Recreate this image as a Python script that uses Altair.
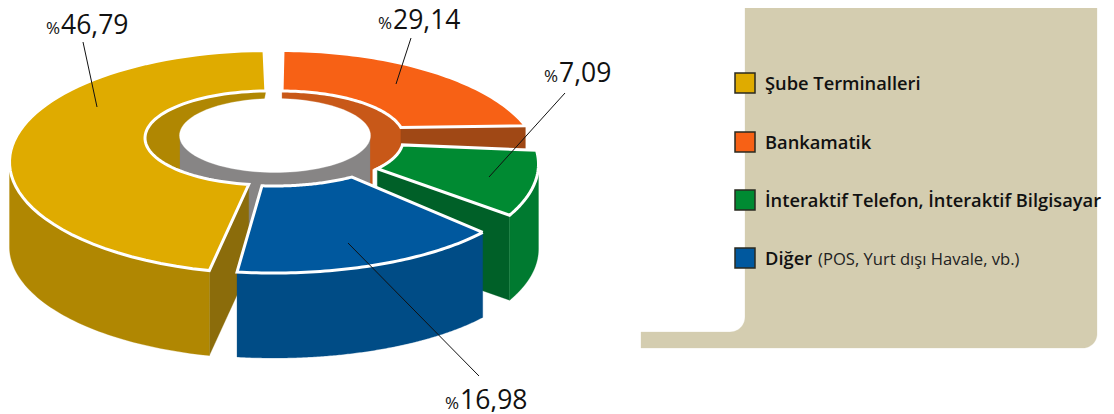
import math
import altair as alt
import pandas as pd

# ---- chart values ----
categories = ["Şube Terminalleri", "Bankamatik", "İnteraktif Telefon, İnteraktif Bilgisayar", "Diğer"]
category_notes = ["", "", "", "(POS, Yurt dışı Havale, vb.)"]
shares = [46.79, 29.14, 7.09, 16.98]

# sweep of each slice (clockwise degrees from the back of the ring)
sweep_start = [-1.0, 0.5, 96.0, 141.8]
sweep_end_inner = [-171.0, 77.0, 127.7, 185.5]
sweep_end_outer = [-170.4, 82.5, 130.6, 185.5]

# exploded slice centres
centre_x = [268, 281, 280, 274]
centre_y = [138, 138, 140, 144]

# ring proportions of each slice
in_a = [123.0, 123.0, 123.0, 126.0]
in_b = [47.0, 47.0, 47.0, 42.0]
out_a = [258.5, 258.5, 258.5, 258.5]
out_b = [111.5, 111.5, 111.5, 99.0]
out_e = [24.0, 24.0, 24.0, 30.0]
DEPTH = 85.0

top_colors = ["#dfab00", "#f76115", "#008a32", "#00589e"]
front_colors = ["#b08702", "#a04815", "#007a30", "#004c86"]
end_colors = ["#8b6c0b", "#a04815", "#006028", "#004c86"]
wall_colors = ["#b08702", "#c85818", "#006028", "#004c86"]
hole_gray = "#878585"
panel_color = "#d4cdb0"
ink = "#111111"

label_number_x = [61, 393, 559, 460]
label_baseline = [34, 29, 82, 409]
leader_x1 = [83, 411, 565, 479]
leader_y1 = [42, 38, 93, 376]
leader_x2 = [97, 396, 489, 348]
leader_y2 = [107, 84, 177, 243]
legend_row_y = [83, 142, 200, 258]

X_SCALE = alt.Scale(domain=[8, 1106], range=[0, 1098], nice=False, zero=False)
Y_SCALE = alt.Scale(domain=[8, 412], range=[0, 404], nice=False, zero=False)
X = alt.X("x:Q", axis=None, scale=X_SCALE)
Y = alt.Y("y:Q", axis=None, scale=Y_SCALE)


def poly(points, fill, stroke=None, sw=0.0):
    pts = list(points) + [points[0]]
    df = pd.DataFrame({"x": [p[0] for p in pts], "y": [p[1] for p in pts], "i": range(len(pts))})
    opts = dict(fill=fill, interpolate="linear", strokeJoin="miter", strokeMiterLimit=6)
    if stroke:
        opts.update(stroke=stroke, strokeWidth=sw)
    else:
        opts.update(stroke=fill, strokeWidth=0.3)
    return alt.Chart(df).mark_line(**opts).encode(x=X, y=Y, order="i:Q")


def steps(a, b, n=60):
    return [a + (b - a) * j / n for j in range(n + 1)]


def ray(k, theta):
    t = math.radians(theta)
    return in_a[k] * math.sin(t), -in_b[k] * math.cos(t)


def inner(k, theta):
    dx, dy = ray(k, theta)
    return centre_x[k] + dx, centre_y[k] + dy


def outer(k, theta):
    dx, dy = ray(k, theta)
    A = (dx / out_a[k]) ** 2 + (dy / out_b[k]) ** 2
    B = -2 * dy * out_e[k] / out_b[k] ** 2
    C = (out_e[k] / out_b[k]) ** 2 - 1
    s = (-B + math.sqrt(B * B - 4 * A * C)) / (2 * A)
    return centre_x[k] + s * dx, centre_y[k] + s * dy


def top_face(k):
    a, bi, bo = sweep_start[k], sweep_end_inner[k], sweep_end_outer[k]
    return [outer(k, t) for t in steps(a, bo)] + [inner(k, t) for t in steps(bi, a)]


def shifted(points):
    return [(p[0], p[1] + DEPTH) for p in points]


def side_band(points):
    return list(points) + shifted(points)[::-1]


def front_side(k):
    pts = [outer(k, t) for t in steps(sweep_start[k], sweep_end_outer[k], 160)]
    pts = [p for p in pts if p[1] >= centre_y[k] + out_e[k]]
    return side_band(pts)


def end_face(k):
    return side_band([inner(k, sweep_end_inner[k]), outer(k, sweep_end_outer[k])])


layers = []


# panel behind the legend, with rounded and concave corners
def corner(cx, cy, r, a0, a1):
    return [(cx + r * math.cos(math.radians(a)), cy + r * math.sin(math.radians(a))) for a in steps(a0, a1, 12)]


panel = [(745, 2), (1097, 2)] + corner(1083, 334, 14, 0, 90) + [(641, 348), (641, 332)] + corner(730, 317, 15, 90, 0)
panel = [(x, max(y, 8)) for x, y in panel]
layers.append(poly(panel, panel_color))

# inner walls of the hole
layers.append(poly([inner(0, t) for t in steps(sweep_start[0], sweep_end_inner[0])], wall_colors[0]))
layers.append(poly(side_band([inner(1, t) for t in steps(sweep_start[1], 132)]), wall_colors[1]))

# gray core of the hole and its white mouth
layers.append(poly([(180, 135.5), (370, 135.5), (370, 250), (180, 250)], hole_gray))
layers.append(poly([(275 + 95.5 * math.cos(math.radians(a)), 135.5 + 37 * math.sin(math.radians(a)))
                    for a in steps(0, 360, 120)], "#ffffff"))

# orange slice
layers.append(poly(end_face(1), end_colors[1]))
layers.append(poly(top_face(1), top_colors[1], "#ffffff", 3))
# green slice
layers.append(poly(end_face(2), end_colors[2]))
layers.append(poly(front_side(2), front_colors[2]))
layers.append(poly(top_face(2), top_colors[2], "#ffffff", 3))
# yellow slice
layers.append(poly(end_face(0), end_colors[0]))
layers.append(poly(front_side(0), front_colors[0]))
layers.append(poly(top_face(0), top_colors[0], "#ffffff", 3))
# blue slice
layers.append(poly(front_side(3), front_colors[3]))
layers.append(poly(top_face(3), top_colors[3], "#ffffff", 3))

# leaders
leaders = pd.DataFrame({"x": leader_x1, "y": leader_y1, "x2": leader_x2, "y2": leader_y2})
layers.append(alt.Chart(leaders).mark_rule(color="#111111", strokeWidth=1).encode(x=X, y=Y, x2="x2:Q", y2="y2:Q"))

# value labels
labels = pd.DataFrame({
    "x": label_number_x,
    "y": label_baseline,
    "num": [f"{v:.2f}".replace(".", ",") for v in shares],
    "pct": ["%"] * 4,
})
NUM_FONT = "Open Sans"
layers.append(alt.Chart(labels).mark_text(font=NUM_FONT, fontSize=26.5, fontWeight=500, align="left", color=ink,
                                          baseline="alphabetic").encode(x=X, y=Y, text="num:N"))
layers.append(alt.Chart(labels).mark_text(font=NUM_FONT, fontSize=17, align="right", dx=-1, color=ink,
                                          baseline="alphabetic").encode(x=X, y=Y, text="pct:N"))

# legend
legend = pd.DataFrame({
    "x": [735] * 4, "x2": [755] * 4,
    "y": [r - 10 for r in legend_row_y], "y2": [r + 10 for r in legend_row_y],
    "tx": [765] * 4, "ty": [r + 6.5 for r in legend_row_y],
    "name": categories, "c": top_colors,
})
layers.append(alt.Chart(legend).mark_rect(stroke="#2a2a20", strokeWidth=1.5).encode(
    x=X, y=Y, x2="x2:Q", y2="y2:Q", fill=alt.Fill("c:N", scale=None)))
layers.append(alt.Chart(legend).mark_text(font="Open Sans", fontSize=18.3, fontWeight=600, align="left", color=ink,
                                          baseline="alphabetic")
              .encode(x=alt.X("tx:Q", axis=None, scale=X_SCALE), y=alt.Y("ty:Q", axis=None, scale=Y_SCALE), text="name:N"))
note = pd.DataFrame({"x": [818], "y": [legend_row_y[3] + 6.5], "t": [category_notes[3]]})
layers.append(alt.Chart(note).mark_text(font="Open Sans", fontSize=16.6, align="left", color="#222222", baseline="alphabetic")
              .encode(x=X, y=Y, text="t:N"))

chart = (alt.layer(*layers).properties(width=1098, height=404, padding=0, autosize=alt.AutoSizeParams(type="none"))
         .configure_view(stroke=None))
chart.save("out.html", embed_options={"renderer": "svg", "actions": False})
